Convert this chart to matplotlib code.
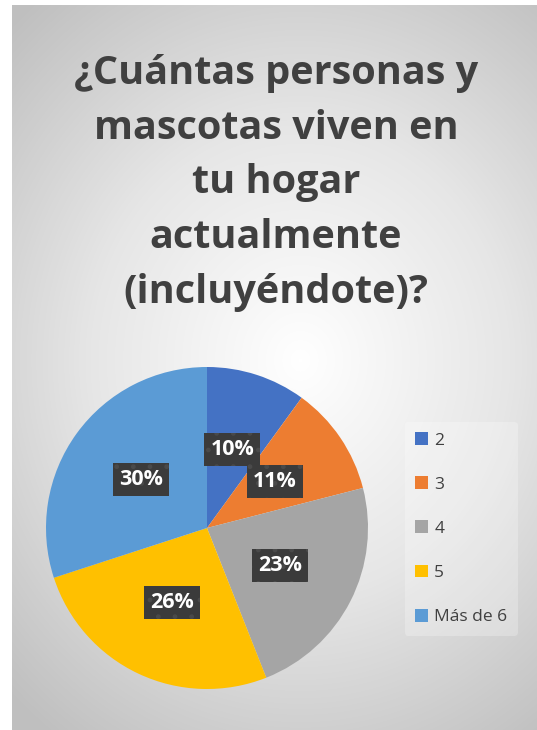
import numpy as np
import matplotlib
matplotlib.use("Agg")
import matplotlib.pyplot as plt
from matplotlib.colors import LinearSegmentedColormap

# ---- data ----
categories = ["2", "3", "4", "5", "Más de 6"]
values = [10, 11, 23, 26, 30]
colors = ["#4472C4", "#ED7D31", "#A5A5A5", "#FFC000", "#5B9BD5"]
title = "¿Cuántas personas y\nmascotas viven en\ntu hogar\nactualmente\n(incluyéndote)?"

W, H = 537, 730
fig = plt.figure(figsize=(W / 100, H / 100), dpi=100)
fig.patch.set_facecolor("white")

# background with radial gradient
bx0, by0, bx1, by1 = 12, 5, 537, 730
bg = fig.add_axes([bx0 / W, 1 - by1 / H, (bx1 - bx0) / W, (by1 - by0) / H])
bg.set_axis_off()
yy, xx = np.mgrid[0:(by1 - by0), 0:(bx1 - bx0)]
cx, cy = 300 - bx0, 360 - by0
d = np.sqrt(((xx - cx) / 420.0) ** 2 + ((yy - cy) / 470.0) ** 2)
d = np.clip(d, 0, 1)
cmap = LinearSegmentedColormap.from_list("g", ["#ffffff", "#e6e6e6", "#bfbfbf"])
bg.imshow(d, cmap=cmap, vmin=0, vmax=1, aspect="auto", interpolation="bilinear")

# title
fig.text(276 / W, 1 - 183 / H, title, ha="center", va="center",
         multialignment="center", fontsize=28.5, fontweight="bold",
         family="Open Sans", color="#404040", linespacing=1.53)

# pie
cxp, cyp, r = 207, 528, 161
ax = fig.add_axes([(cxp - r) / W, 1 - (cyp + r) / H, 2 * r / W, 2 * r / H])
ax.set_axis_off()
matplotlib.rcParams["hatch.linewidth"] = 1.0
wedges, texts, autotexts = ax.pie(
    values, colors=colors, startangle=90, counterclock=False,
    autopct="%d%%", pctdistance=0.51,
    wedgeprops=dict(linewidth=0),
    textprops=dict(color="white", fontsize=15.5, fontweight="bold", family="Open Sans"),
)
for t in autotexts:
    t.set_bbox(dict(boxstyle="square,pad=0.28", facecolor="#3b3b3b",
                    edgecolor="#4a4a4a", linewidth=0, hatch="."))
ax.set_xlim(-1, 1)
ax.set_ylim(-1, 1)

# legend
leg = fig.legend(wedges, categories, loc="upper left",
                 bbox_to_anchor=(396 / W, 1 - 413 / H),
                 frameon=True, labelspacing=1.6,
                 handlelength=0.75, handleheight=0.75, handletextpad=0.35,
                 borderpad=0.6, prop=dict(family="Open Sans", size=12.5))
leg.get_frame().set_facecolor("white")
leg.get_frame().set_alpha(0.25)
leg.get_frame().set_linewidth(0)
for t in leg.get_texts():
    t.set_color("#404040")

fig.savefig("out.png", dpi=100)
